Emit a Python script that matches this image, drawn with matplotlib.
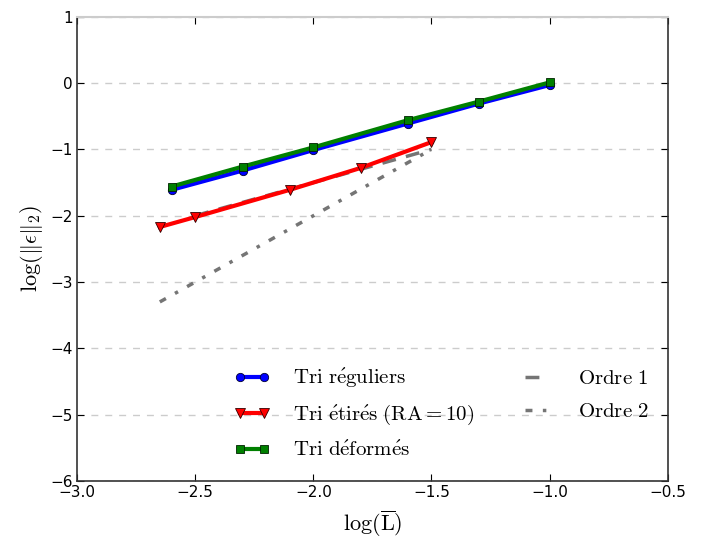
import matplotlib
matplotlib.use("Agg")
import matplotlib.pyplot as plt

plt.rcParams['mathtext.fontset'] = 'cm'

# Data
x_reg = [-2.6, -2.3, -2.0, -1.6, -1.3, -1.0]
y_reg = [-1.61, -1.32, -1.01, -0.61, -0.31, -0.03]
x_def = [-2.6, -2.3, -2.0, -1.6, -1.3, -1.0]
y_def = [-1.56, -1.26, -0.97, -0.56, -0.28, 0.01]
x_eti = [-2.65, -2.5, -2.1, -1.8, -1.5]
y_eti = [-2.17, -2.02, -1.61, -1.28, -0.89]
x_o1 = [-2.5, -1.5]
y_o1 = [-2.0, -1.0]
x_o2 = [-2.65, -1.5]
y_o2 = [-3.3, -1.0]

xticks = [-3.0, -2.5, -2.0, -1.5, -1.0, -0.5]
yticks = [1, 0, -1, -2, -3, -4, -5, -6]

fig = plt.figure(figsize=(7.08, 5.41), dpi=100)
ax = fig.add_axes([0.109, 0.111, 0.834, 0.858])

ax.plot(x_reg, y_reg, color='blue', lw=3, marker='o', ms=6, mec='#000033', mew=0.6,
        label=r'$\mathrm{Tri\ r\acute{e}guliers}$', zorder=3)
ax.plot(x_eti, y_eti, color='red', lw=3, marker='v', ms=6.5, mec='#330000', mew=0.6,
        label=r'$\mathrm{Tri\ \acute{e}tir\acute{e}s\ (RA=10)}$', zorder=3)
ax.plot(x_def, y_def, color='green', lw=3, marker='s', ms=6, mec='#002200', mew=0.6,
        label=r'$\mathrm{Tri\ d\acute{e}form\acute{e}s}$', zorder=4)
ax.plot(x_o1, y_o1, color='#666666', lw=2.5, ls=(0, (4, 3)), alpha=0.9,
        label=r'$\mathrm{Ordre\ 1}$', zorder=2.5)
ax.plot(x_o2, y_o2, color='#666666', lw=2.5, ls=(0, (2, 3, 1, 3)), alpha=0.9,
        label=r'$\mathrm{Ordre\ 2}$', zorder=2.5)

ax.set_xlim(-3.0, -0.5)
ax.set_ylim(-6, 1)
ax.set_xticks(xticks)
ax.set_yticks(yticks)
ax.set_xticklabels([f"\u2212{abs(v):.1f}" if v < 0 else f"{v:.1f}" for v in xticks])
ax.set_yticklabels([f"\u2212{abs(v)}" if v < 0 else f"{v}" for v in yticks])
ax.tick_params(direction='in', top=True, right=True, labelsize=11, length=5, width=0.8, pad=3)

ax.yaxis.grid(True, color='#cccccc', ls=(0, (5, 5)), lw=1)
ax.set_axisbelow(True)

for s in ['left', 'bottom', 'right']:
    ax.spines[s].set_color('#333333')
    ax.spines[s].set_linewidth(1.2)
ax.spines['top'].set_color('#cccccc')
ax.spines['top'].set_linewidth(1.5)
ax.axhline(1, color='#444444', lw=1.2, ls=(0, (5, 5)), clip_on=False, zorder=1)

ax.set_xlabel(r'$\log(\overline{\mathrm{L}})$', fontsize=16, labelpad=6)
ax.set_ylabel(r'$\log(\|\epsilon\|_2)$', fontsize=16, labelpad=4)

ax.legend(loc='lower left', bbox_to_anchor=(0.233, 0.005), ncol=2, frameon=False,
          fontsize=15, handlelength=1.75, handletextpad=1.1, columnspacing=2.15,
          labelspacing=0.62, numpoints=2)

fig.savefig('out.png', dpi=100)
